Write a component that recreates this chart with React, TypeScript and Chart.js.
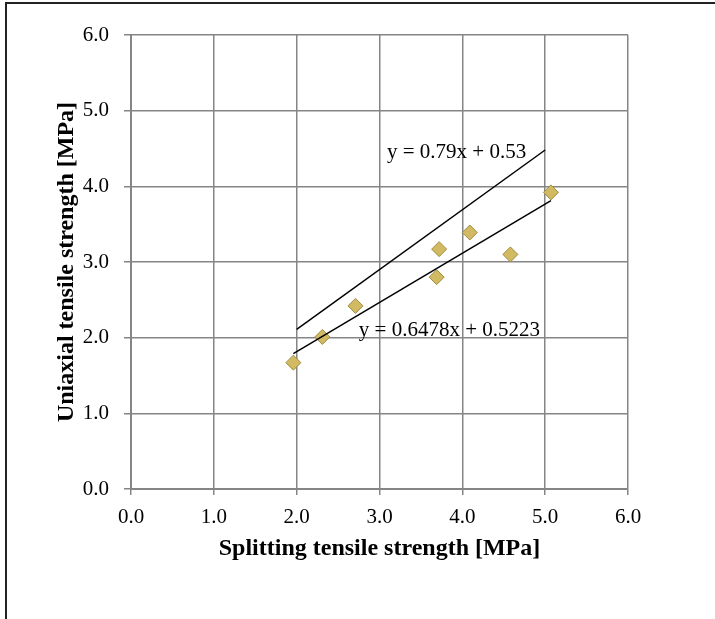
import React, { useEffect, useRef } from "react";
import { Chart, registerables } from "chart.js";

Chart.register(...registerables);

// Measured points: splitting tensile strength (x) vs uniaxial tensile strength (y), MPa
const splittingX = [1.96, 2.31, 2.71, 3.69, 3.72, 4.09, 4.58, 5.07];
const uniaxialY = [1.67, 2.01, 2.42, 2.80, 3.17, 3.39, 3.10, 3.92];

// Trend line 1 (y = 0.79x + 0.53) endpoints
const trend1X = [2.0, 5.0];
const trend1Y = [2.11, 4.48];
// Trend line 2 (y = 0.6478x + 0.5223) endpoints
const trend2X = [1.96, 5.07];
const trend2Y = [1.79, 3.81];

const eqLabels = ["y = 0.79x + 0.53", "y = 0.6478x + 0.5223"];
const eqLabelX = [3.09, 2.75];
const eqLabelY = [4.45, 2.09];

const axisMin = 0;
const axisMax = 6;
const axisStep = 1;

const xTitle = "Splitting tensile strength [MPa]";
const yTitle = "Uniaxial tensile strength [MPa]";

const FONT = "'Liberation Serif', 'Times New Roman', serif";
const GRID = "#858585";

const eqPlugin = {
  id: "eqLabels",
  afterDatasetsDraw(chart: any) {
    const { ctx, scales } = chart;
    ctx.save();
    ctx.font = `21px ${FONT}`;
    ctx.fillStyle = "#000";
    ctx.textAlign = "left";
    ctx.textBaseline = "middle";
    eqLabels.forEach((t, i) => {
      ctx.fillText(t, scales.x.getPixelForValue(eqLabelX[i]), scales.y.getPixelForValue(eqLabelY[i]));
    });
    ctx.restore();
  },
};

export default function App() {
  const ref = useRef<HTMLCanvasElement | null>(null);
  useEffect(() => {
    document.body.style.margin = "0";
    const pts = splittingX.map((x, i) => ({ x, y: uniaxialY[i] }));
    const t1 = trend1X.map((x, i) => ({ x, y: trend1Y[i] }));
    const t2 = trend2X.map((x, i) => ({ x, y: trend2Y[i] }));
    const chart = new Chart(ref.current!, {
      type: "scatter",
      data: {
        datasets: [
          {
            type: "line",
            data: t1,
            borderColor: "#000",
            borderWidth: 1.5,
            pointRadius: 0,
            showLine: true,
            fill: false,
          } as any,
          {
            type: "line",
            data: t2,
            borderColor: "#000",
            borderWidth: 1.5,
            pointRadius: 0,
            showLine: true,
            fill: false,
          } as any,
          {
            data: pts,
            pointStyle: "rectRot",
            pointRadius: 7.5,
            backgroundColor: "#D2BA63",
            borderColor: "#A08C3E",
            borderWidth: 1,
          },
        ],
      },
      options: {
        animation: false,
        responsive: false,
        events: [],
        layout: { padding: { top: 35, right: 87, left: 0, bottom: 0 } },
        plugins: { legend: { display: false }, tooltip: { enabled: false } },
        scales: {
          x: {
            type: "linear",
            min: axisMin,
            max: axisMax,
            afterFit: (s: any) => { s.height = 130; },
            ticks: {
              stepSize: axisStep,
              color: "#000",
              font: { family: FONT, size: 21 },
              padding: 10,
              callback: (v: any) => Number(v).toFixed(1),
            },
            grid: { color: GRID, lineWidth: 1.5, tickLength: 6, drawTicks: true },
            border: { color: GRID, width: 2 },
            title: {
              display: true,
              text: xTitle,
              color: "#000",
              font: { family: FONT, size: 24, weight: "bold" },
              padding: { top: 0, bottom: 56 },
            },
          },
          y: {
            type: "linear",
            min: axisMin,
            max: axisMax,
            afterFit: (s: any) => { s.width = 131; },
            ticks: {
              stepSize: axisStep,
              color: "#000",
              font: { family: FONT, size: 21 },
              padding: 15,
              callback: (v: any) => Number(v).toFixed(1),
            },
            grid: { color: GRID, lineWidth: 1.5, tickLength: 7, drawTicks: true },
            border: { color: GRID, width: 2 },
            title: {
              display: true,
              text: yTitle,
              color: "#000",
              font: { family: FONT, size: 24, weight: "bold" },
              padding: { top: 52, bottom: 0 },
            },
          },
        },
      },
      plugins: [eqPlugin],
    });
    return () => chart.destroy();
  }, []);

  return (
    <div style={{ position: "fixed", left: 0, top: 0, width: 715, height: 619, overflow: "hidden", background: "#fff" }}>
      <canvas ref={ref} width={715} height={619} style={{ display: "block", position: "absolute", left: 0, top: 0 }} />
      <div
        style={{
          position: "absolute",
          left: 5,
          top: 2,
          width: 900,
          height: 900,
          borderLeft: "2px solid #222",
          borderTop: "2px solid #222",
          pointerEvents: "none",
        }}
      />
    </div>
  );
}
